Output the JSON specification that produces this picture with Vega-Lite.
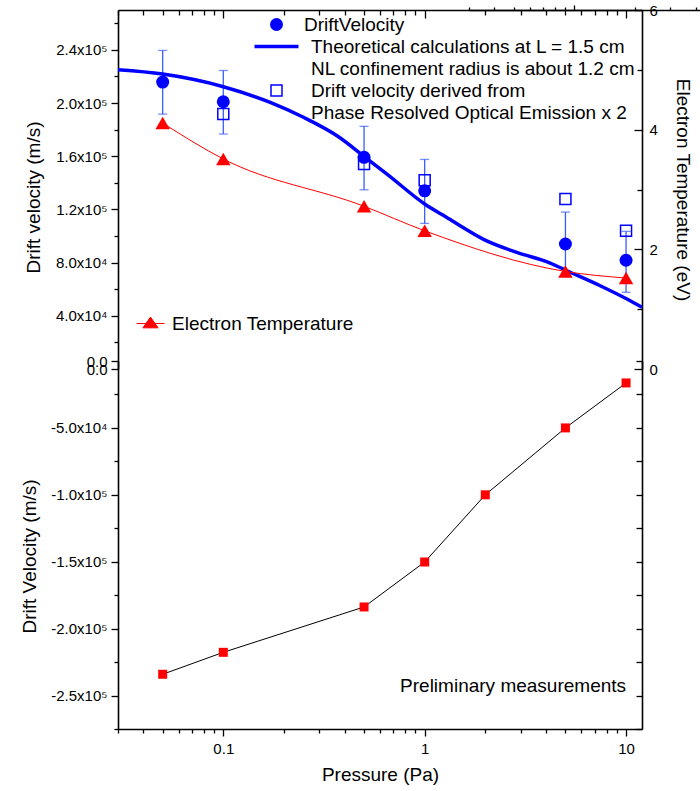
{
  "$schema": "https://vega.github.io/schema/vega-lite/v6.json",
  "width": 524,
  "height": 719,
  "padding": {"left": 20, "top": 3, "right": 2, "bottom": 2},
  "config": {
    "font": "Liberation Sans",
    "view": {"stroke": null},
    "axis": {
      "labelFont": "Liberation Sans",
      "titleFont": "Liberation Sans",
      "labelFontSize": 15,
      "titleFontSize": 19,
      "titleFontWeight": "normal",
      "labelColor": "#000000",
      "titleColor": "#000000",
      "domainColor": "#000000",
      "tickColor": "#000000",
      "domainWidth": 1.6,
      "tickWidth": 1.3,
      "tickCount": 100,
      "grid": false,
      "labelFlush": false,
      "labelOverlap": false
    },
    "legend": {
      "labelFont": "Liberation Sans",
      "labelFontSize": 19,
      "labelColor": "#000000",
      "labelLimit": 600
    }
  },
  "datasets": {
    "drift": [
      {"p": 0.05, "v": 215800, "lo": 191700, "hi": 239600, "s": "DriftVelocity"},
      {"p": 0.1, "v": 201000, "lo": 176700, "hi": 224500, "s": "DriftVelocity"},
      {"p": 0.5, "v": 159200, "lo": 134800, "hi": 182500, "s": "DriftVelocity"},
      {"p": 1, "v": 134000, "lo": 109500, "hi": 157600, "s": "DriftVelocity"},
      {"p": 5, "v": 94000, "lo": 70000, "hi": 118000, "s": "DriftVelocity"},
      {"p": 10, "v": 81800, "lo": 57700, "hi": 103500, "s": "DriftVelocity"}
    ],
    "theory": [
      {"p": 0.03, "v": 225000, "s": "Theory"},
      {"p": 0.05, "v": 221800, "s": "Theory"},
      {"p": 0.1, "v": 212300, "s": "Theory"},
      {"p": 0.171, "v": 200500, "s": "Theory"},
      {"p": 0.25, "v": 189300, "s": "Theory"},
      {"p": 0.367, "v": 175400, "s": "Theory"},
      {"p": 0.507, "v": 159200, "s": "Theory"},
      {"p": 0.65, "v": 146600, "s": "Theory"},
      {"p": 1.0, "v": 124100, "s": "Theory"},
      {"p": 1.34, "v": 112400, "s": "Theory"},
      {"p": 1.5, "v": 107700, "s": "Theory"},
      {"p": 1.96, "v": 97500, "s": "Theory"},
      {"p": 2.87, "v": 87700, "s": "Theory"},
      {"p": 4.2, "v": 79700, "s": "Theory"},
      {"p": 5.09, "v": 73900, "s": "Theory"},
      {"p": 7.44, "v": 62600, "s": "Theory"},
      {"p": 10.1, "v": 52600, "s": "Theory"},
      {"p": 12, "v": 46400, "s": "Theory"}
    ],
    "proe": [
      {"p": 0.1, "v": 191700, "s": "PROE"},
      {"p": 0.5, "v": 154100, "s": "PROE"},
      {"p": 1, "v": 141900, "s": "PROE"},
      {"p": 5, "v": 127800, "s": "PROE"},
      {"p": 10, "v": 104000, "s": "PROE"}
    ],
    "temp": [
      {"p": 0.05, "t": 4.11, "s": "Electron Temperature"},
      {"p": 0.1, "t": 3.51, "s": "Electron Temperature"},
      {"p": 0.5, "t": 2.72, "s": "Electron Temperature"},
      {"p": 1, "t": 2.31, "s": "Electron Temperature"},
      {"p": 5, "t": 1.63, "s": "Electron Temperature"},
      {"p": 10, "t": 1.52, "s": "Electron Temperature"}
    ],
    "prelim": [
      {"p": 0.05, "v": -234100},
      {"p": 0.1, "v": -217700},
      {"p": 0.5, "v": -183800},
      {"p": 1, "v": -150200},
      {"p": 2, "v": -100000},
      {"p": 5, "v": -50000},
      {"p": 10, "v": -16400}
    ]
  },
  "layer": [
    {
      "encoding": {
        "x": {
          "field": "p",
          "type": "quantitative",
          "scale": {"type": "log", "domain": [0.03, 12], "nice": false},
          "axis": {
            "orient": "top",
            "offset": 0,
            "title": null,
            "labels": false,
            "values": [0.03, 0.04, 0.05, 0.06, 0.07, 0.08, 0.09, 0.1, 0.2, 0.3, 0.4, 0.5, 0.6, 0.7, 0.8, 0.9, 1, 2, 3, 4, 5, 6, 7, 8, 9, 10],
            "tickSize": {"condition": {"test": "datum.value === 0.1 || datum.value === 1 || datum.value === 10", "value": -8}, "value": -5}
          }
        }
      },
      "layer": [
        {
          "data": {"name": "drift"},
          "mark": {"type": "errorbar", "ticks": {"size": 9}, "thickness": 1.3, "color": "#3a5cff"},
          "encoding": {
            "y": {
              "field": "lo",
              "type": "quantitative",
              "scale": {"domain": [0, 270000], "range": [359, 0], "nice": false, "zero": false},
              "axis": {
                "orient": "left",
                "offset": 0,
                "title": "Drift velocity (m/s)",
                "titleX": -74.5,
                "titleY": 187,
                "labelPadding": 4,
                "values": [0, 20000, 40000, 60000, 80000, 100000, 120000, 140000, 160000, 180000, 200000, 220000, 240000, 260000],
                "labelExpr": "datum.value % 40000 !== 0 ? '' : datum.value === 0 ? '0.0' : format(datum.value / (datum.value >= 100000 ? 100000 : 10000), '.1f') + 'x10' + (datum.value >= 100000 ? '⁵' : '⁴')",
                "tickSize": {"condition": {"test": "datum.value % 40000 === 0", "value": 7}, "value": 4}
              }
            },
            "y2": {"field": "hi"}
          }
        },
        {
          "data": {"name": "theory"},
          "mark": {"type": "line", "strokeWidth": 3.5, "interpolate": "monotone"},
          "encoding": {
            "y": {"field": "v", "type": "quantitative", "scale": {"domain": [0, 270000], "range": [359, 0], "nice": false, "zero": false}, "title": "Drift velocity (m/s)"},
            "color": {
              "field": "s",
              "type": "nominal",
              "scale": {"domain": ["DriftVelocity", "Theory", "PROE"], "range": ["#0000ff", "#0000ff", "#0000ff"]},
              "legend": {
                "title": null,
                "orient": "none",
                "legendX": 149,
                "legendY": 5,
                "padding": 0,
                "rowPadding": 2,
                "labelOffset": 18,
                "symbolSize": 400,
                "labelExpr": "datum.value === 'Theory' ? ['Theoretical calculations at L = 1.5 cm', 'NL confinement radius is about 1.2 cm'] : datum.value === 'PROE' ? ['Drift velocity derived from', 'Phase Resolved Optical Emission x 2'] : datum.value",
                "encode": {
                  "symbols": {
                    "update": {
                      "shape": {"signal": "datum.value === 'Theory' ? 'M-2.2,0H2.2' : datum.value === 'PROE' ? 'square' : 'circle'"},
                      "size": {"signal": "datum.value === 'Theory' ? 400 : datum.value === 'PROE' ? 121 : 169"},
                      "fill": {"signal": "datum.value === 'DriftVelocity' ? '#0000ff' : 'transparent'"},
                      "fillOpacity": {"signal": "datum.value === 'DriftVelocity' ? 1 : 0"},
                      "stroke": {"value": "#0000ff"},
                      "strokeWidth": {"signal": "datum.value === 'Theory' ? 3.5 : datum.value === 'PROE' ? 1.5 : 0"},
                      "opacity": {"value": 1}
                    }
                  },
                  "labels": {
                    "update": {
                      "dx": {"signal": "datum.value === 'DriftVelocity' ? 0 : 7"},
                      "lineHeight": {"value": 22}
                    }
                  }
                }
              }
            }
          }
        },
        {
          "data": {"name": "drift"},
          "mark": {"type": "point", "shape": "circle", "filled": true, "size": 169, "opacity": 1},
          "encoding": {
            "y": {"field": "v", "type": "quantitative", "scale": {"domain": [0, 270000], "range": [359, 0], "nice": false, "zero": false}, "title": "Drift velocity (m/s)"},
            "color": {
              "field": "s",
              "type": "nominal",
              "scale": {"domain": ["DriftVelocity", "Theory", "PROE"], "range": ["#0000ff", "#0000ff", "#0000ff"]},
              "legend": {
                "title": null,
                "orient": "none",
                "legendX": 149,
                "legendY": 5,
                "padding": 0,
                "rowPadding": 2,
                "labelOffset": 18,
                "symbolSize": 400,
                "labelExpr": "datum.value === 'Theory' ? ['Theoretical calculations at L = 1.5 cm', 'NL confinement radius is about 1.2 cm'] : datum.value === 'PROE' ? ['Drift velocity derived from', 'Phase Resolved Optical Emission x 2'] : datum.value",
                "encode": {
                  "symbols": {
                    "update": {
                      "shape": {"signal": "datum.value === 'Theory' ? 'M-2.2,0H2.2' : datum.value === 'PROE' ? 'square' : 'circle'"},
                      "size": {"signal": "datum.value === 'Theory' ? 400 : datum.value === 'PROE' ? 121 : 169"},
                      "fill": {"signal": "datum.value === 'DriftVelocity' ? '#0000ff' : 'transparent'"},
                      "fillOpacity": {"signal": "datum.value === 'DriftVelocity' ? 1 : 0"},
                      "stroke": {"value": "#0000ff"},
                      "strokeWidth": {"signal": "datum.value === 'Theory' ? 3.5 : datum.value === 'PROE' ? 1.5 : 0"},
                      "opacity": {"value": 1}
                    }
                  },
                  "labels": {
                    "update": {
                      "dx": {"signal": "datum.value === 'DriftVelocity' ? 0 : 7"},
                      "lineHeight": {"value": 22}
                    }
                  }
                }
              }
            }
          }
        },
        {
          "data": {"name": "proe"},
          "mark": {"type": "point", "shape": "square", "filled": false, "size": 121, "strokeWidth": 1.5, "opacity": 1},
          "encoding": {
            "y": {"field": "v", "type": "quantitative", "scale": {"domain": [0, 270000], "range": [359, 0], "nice": false, "zero": false}, "title": "Drift velocity (m/s)"},
            "color": {
              "field": "s",
              "type": "nominal",
              "scale": {"domain": ["DriftVelocity", "Theory", "PROE"], "range": ["#0000ff", "#0000ff", "#0000ff"]},
              "legend": {
                "title": null,
                "orient": "none",
                "legendX": 149,
                "legendY": 5,
                "padding": 0,
                "rowPadding": 2,
                "labelOffset": 18,
                "symbolSize": 400,
                "labelExpr": "datum.value === 'Theory' ? ['Theoretical calculations at L = 1.5 cm', 'NL confinement radius is about 1.2 cm'] : datum.value === 'PROE' ? ['Drift velocity derived from', 'Phase Resolved Optical Emission x 2'] : datum.value",
                "encode": {
                  "symbols": {
                    "update": {
                      "shape": {"signal": "datum.value === 'Theory' ? 'M-2.2,0H2.2' : datum.value === 'PROE' ? 'square' : 'circle'"},
                      "size": {"signal": "datum.value === 'Theory' ? 400 : datum.value === 'PROE' ? 121 : 169"},
                      "fill": {"signal": "datum.value === 'DriftVelocity' ? '#0000ff' : 'transparent'"},
                      "fillOpacity": {"signal": "datum.value === 'DriftVelocity' ? 1 : 0"},
                      "stroke": {"value": "#0000ff"},
                      "strokeWidth": {"signal": "datum.value === 'Theory' ? 3.5 : datum.value === 'PROE' ? 1.5 : 0"},
                      "opacity": {"value": 1}
                    }
                  },
                  "labels": {
                    "update": {
                      "dx": {"signal": "datum.value === 'DriftVelocity' ? 0 : 7"},
                      "lineHeight": {"value": 22}
                    }
                  }
                }
              }
            }
          }
        }
      ]
    },
    {
      "data": {"name": "temp"},
      "encoding": {
        "x": {"field": "p", "type": "quantitative", "scale": {"type": "log", "domain": [0.03, 12], "nice": false}, "axis": null},
        "y": {
          "field": "t",
          "type": "quantitative",
          "scale": {"domain": [0, 6], "range": [359, 0], "nice": false, "zero": false},
          "axis": {
            "orient": "right",
            "offset": 0,
            "title": "Electron Temperature (eV)",
            "titlePadding": 15,
            "labelPadding": 15,
            "values": [0, 1, 2, 3, 4, 5, 6],
            "labelExpr": "datum.value % 2 === 0 ? format(datum.value, 'd') : ''",
            "tickSize": {"condition": {"test": "datum.value % 2 === 0", "value": -8}, "value": -5}
          }
        },
        "color": {
          "field": "s",
          "type": "nominal",
          "scale": {"domain": ["Electron Temperature"], "range": ["#ff0000"]},
          "legend": {
            "title": null,
            "orient": "none",
            "legendX": 18,
            "legendY": 299,
            "padding": 0,
            "labelOffset": 7,
            "symbolSize": 784,
            "encode": {
              "symbols": {
                "update": {
                  "shape": {"value": "M-1,0H1M0,-0.46L0.54,0.31L-0.54,0.31Z"},
                  "size": {"value": 784},
                  "fill": {"value": "#ff0000"},
                  "stroke": {"value": "#ff0000"},
                  "strokeWidth": {"value": 1},
                  "opacity": {"value": 1}
                }
              }
            }
          }
        }
      },
      "layer": [
        {"mark": {"type": "line", "strokeWidth": 1, "interpolate": "monotone"}},
        {"mark": {"type": "point", "shape": "triangle-up", "filled": true, "size": 210, "opacity": 1}}
      ]
    },
    {
      "data": {"name": "prelim"},
      "encoding": {
        "x": {
          "field": "p",
          "type": "quantitative",
          "scale": {"type": "log", "domain": [0.03, 12], "nice": false},
          "axis": {
            "orient": "bottom",
            "offset": 0,
            "title": "Pressure (Pa)",
            "titlePadding": 9,
            "labelPadding": 5,
            "values": [0.03, 0.04, 0.05, 0.06, 0.07, 0.08, 0.09, 0.1, 0.2, 0.3, 0.4, 0.5, 0.6, 0.7, 0.8, 0.9, 1, 2, 3, 4, 5, 6, 7, 8, 9, 10],
            "labelExpr": "datum.value === 0.1 ? '0.1' : datum.value === 1 ? '1' : datum.value === 10 ? '10' : ''",
            "tickSize": {"condition": {"test": "datum.value === 0.1 || datum.value === 1 || datum.value === 10", "value": 7}, "value": 4}
          }
        },
        "y": {
          "field": "v",
          "type": "quantitative",
          "scale": {"domain": [-275000, 0], "range": [719, 351], "nice": false, "zero": false},
          "axis": {
            "orient": "left",
            "offset": 0,
            "title": "Drift Velocity (m/s)",
            "titleX": -78.5,
            "titleY": 546,
            "labelPadding": 4,
            "values": [0, -25000, -50000, -75000, -100000, -125000, -150000, -175000, -200000, -225000, -250000, -275000],
            "labelExpr": "datum.value % 50000 !== 0 ? '' : datum.value === 0 ? '0.0' : '-' + format(-datum.value / (-datum.value >= 100000 ? 100000 : 10000), '.1f') + 'x10' + (-datum.value >= 100000 ? '⁵' : '⁴')",
            "tickSize": {"condition": {"test": "datum.value % 50000 === 0", "value": 7}, "value": 4}
          }
        }
      },
      "layer": [
        {"mark": {"type": "line", "color": "#000000", "strokeWidth": 1}},
        {"mark": {"type": "square", "color": "#ff0000", "size": 81, "opacity": 1}}
      ]
    },
    {
      "data": {"values": [{"note": "Preliminary measurements"}]},
      "mark": {"type": "text", "align": "right", "baseline": "middle", "fontSize": 19, "font": "Liberation Sans", "color": "#000000"},
      "encoding": {
        "x": {
          "datum": 10,
          "type": "quantitative",
          "scale": {"type": "log", "domain": [0.03, 12], "nice": false},
          "axis": {
            "orient": "top",
            "position": 351,
            "offset": 0,
            "title": null,
            "labels": false,
            "values": [0.03, 0.04, 0.05, 0.06, 0.07, 0.08, 0.09, 0.1, 0.2, 0.3, 0.4, 0.5, 0.6, 0.7, 0.8, 0.9, 1, 2, 3, 4, 5, 6, 7, 8, 9, 10],
            "tickSize": {"condition": {"test": "datum.value === 0.1 || datum.value === 1 || datum.value === 10", "value": 5}, "value": 3}
          }
        },
        "y": {
          "datum": -243000,
          "type": "quantitative",
          "scale": {"domain": [-275000, 0], "range": [719, 351], "nice": false, "zero": false},
          "axis": {
            "orient": "right",
            "offset": 0,
            "title": null,
            "labels": false,
            "values": [0, -25000, -50000, -75000, -100000, -125000, -150000, -175000, -200000, -225000, -250000, -275000],
            "tickSize": -6
          }
        },
        "text": {"field": "note"}
      }
    }
  ],
  "resolve": {"scale": {"x": "independent", "y": "independent", "color": "independent"}}
}
